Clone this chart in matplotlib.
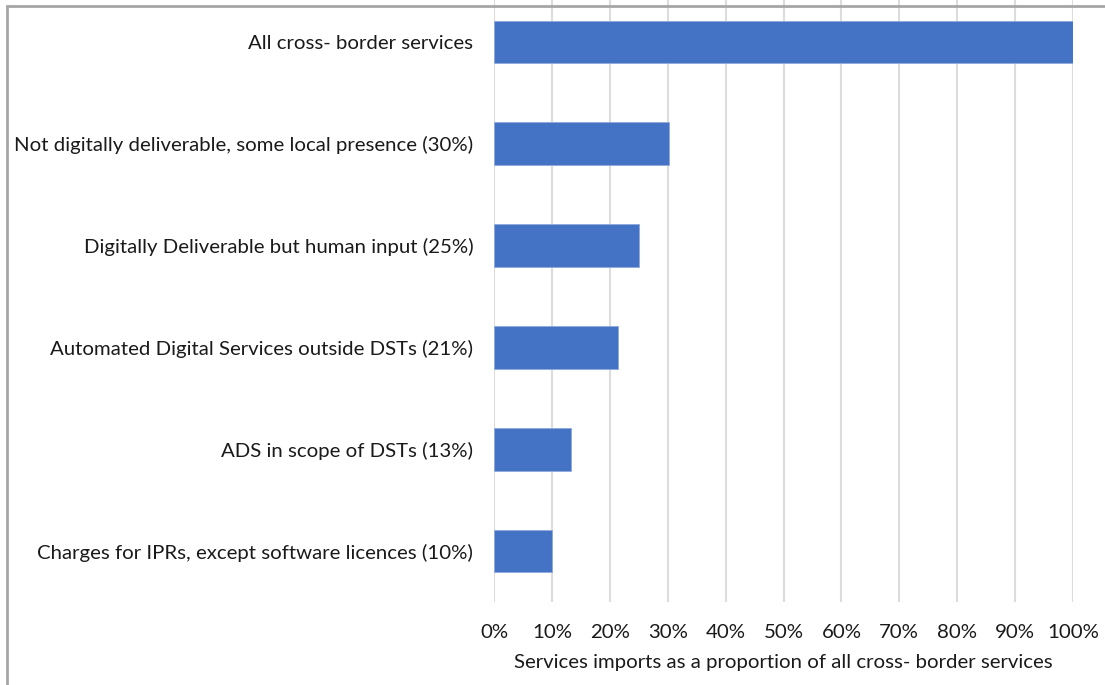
import matplotlib
matplotlib.use('Agg')
import matplotlib.pyplot as plt
from matplotlib.patches import Rectangle

categories = [
    "All cross- border services",
    "Not digitally deliverable, some local presence (30%)",
    "Digitally Deliverable but human input (25%)",
    "Automated Digital Services outside DSTs (21%)",
    "ADS in scope of DSTs (13%)",
    "Charges for IPRs, except software licences (10%)",
]
shares = [100, 30.2, 25.0, 21.4, 13.3, 10.0]
ticks = list(range(0, 101, 10))
tick_labels = [f"{t}%" for t in ticks]

plt.rcParams['font.family'] = ['Lato', 'DejaVu Sans']
plt.rcParams['font.size'] = 14.7

fig = plt.figure(figsize=(11.05, 6.85), dpi=100)
ax = fig.add_axes([494 / 1105, 1 - 602 / 685, (1073 - 494) / 1105, 611 / 685])

ypos = list(range(len(categories)))
ax.barh(ypos, shares, height=0.42, color='#4472C4', edgecolor='#8FAADC', linewidth=0.6, zorder=3)
ax.set_ylim(len(categories) - 0.5, -0.5)
ax.set_xlim(0, 100)
ax.set_yticks(ypos)
ax.set_yticklabels(categories, color='#1a1a1a')
ax.set_xticks(ticks)
ax.set_xticklabels(tick_labels, color='#1a1a1a')
ax.tick_params(axis='both', length=0)
ax.tick_params(axis='x', pad=16)
ax.tick_params(axis='y', pad=15)
ax.grid(axis='x', color='#dcdcdc', linewidth=1.5, zorder=0)
for s in ax.spines.values():
    s.set_visible(False)
ax.set_xlabel('Services imports as a proportion of all cross- border services', color='#1a1a1a', labelpad=9)

# outer frame (cropped at right and bottom)
fig.patches.append(Rectangle((7 / 1105, -0.05), 1.1, 1 - 6 / 685 + 0.05, transform=fig.transFigure,
                             fill=False, edgecolor='#a6a6a6', linewidth=2, zorder=10))

fig.savefig('out.png', dpi=100)
